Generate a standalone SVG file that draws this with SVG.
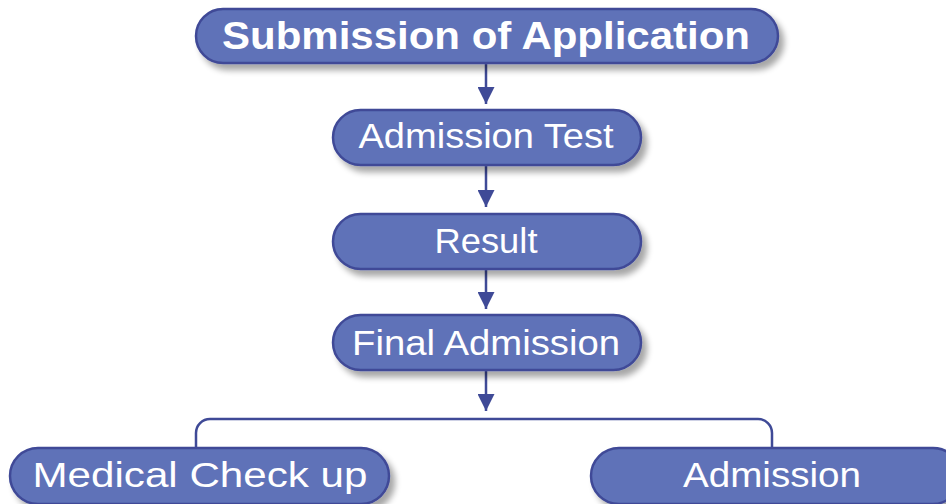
<svg xmlns="http://www.w3.org/2000/svg" width="946" height="504" viewBox="0 0 946 504">
<defs>
<filter id="sh" x="-10%" y="-20%" width="130%" height="160%">
<feGaussianBlur in="SourceAlpha" stdDeviation="3"/>
<feOffset dx="5" dy="6" result="b"/>
<feComponentTransfer><feFuncA type="linear" slope="0.35"/></feComponentTransfer>
<feMerge><feMergeNode/><feMergeNode in="SourceGraphic"/></feMerge>
</filter>
<marker id="ah" viewBox="0 0 10 10" refX="10" refY="5" markerWidth="18" markerHeight="17" markerUnits="userSpaceOnUse" orient="auto">
<path d="M0,0 L10,5 L0,10 z" fill="#3F4A97"/>
</marker>
<style>
.box{fill:#5E72B8;stroke:#3F4A97;stroke-width:2.5;filter:url(#sh)}
.t{fill:#fff;font-family:"Liberation Sans","DejaVu Sans",sans-serif;font-size:35px;text-anchor:middle}
.b{font-weight:bold;font-size:38px}
.c{fill:none;stroke:#3F4A97;stroke-width:2.5}
</style>
</defs>
<g id="connectors">
<path class="c" d="M486,63 V104" marker-end="url(#ah)"/>
<path class="c" d="M486,165 V207" marker-end="url(#ah)"/>
<path class="c" d="M486,269 V309" marker-end="url(#ah)"/>
<path class="c" d="M486,370 V411" marker-end="url(#ah)"/>
<path class="c" d="M196,448 V433 A14,14 0 0 1 210,419 H758 A14,14 0 0 1 772,433 V448"/>
</g>
<g id="n1"><rect class="box" x="196" y="9" width="582" height="54" rx="27"/><text class="t b" x="486" y="49" textLength="528" lengthAdjust="spacingAndGlyphs">Submission of Application</text></g>
<g id="n2"><rect class="box" x="333" y="110" width="308" height="55" rx="27.5"/><text class="t" x="486" y="148" textLength="255" lengthAdjust="spacingAndGlyphs">Admission Test</text></g>
<g id="n3"><rect class="box" x="333" y="214" width="308" height="55" rx="27.5"/><text class="t" x="486" y="253" textLength="103" lengthAdjust="spacingAndGlyphs">Result</text></g>
<g id="n4"><rect class="box" x="333" y="315" width="308" height="55" rx="27.5"/><text class="t" x="486" y="355" textLength="268" lengthAdjust="spacingAndGlyphs">Final Admission</text></g>
<g id="n5"><rect class="box" x="10" y="448" width="379" height="56" rx="28"/><text class="t" x="200" y="487" textLength="335" lengthAdjust="spacingAndGlyphs">Medical Check up</text></g>
<g id="n6"><rect class="box" x="591" y="448" width="370" height="56" rx="28"/><text class="t" x="772" y="487" textLength="178" lengthAdjust="spacingAndGlyphs">Admission</text></g>
</svg>
